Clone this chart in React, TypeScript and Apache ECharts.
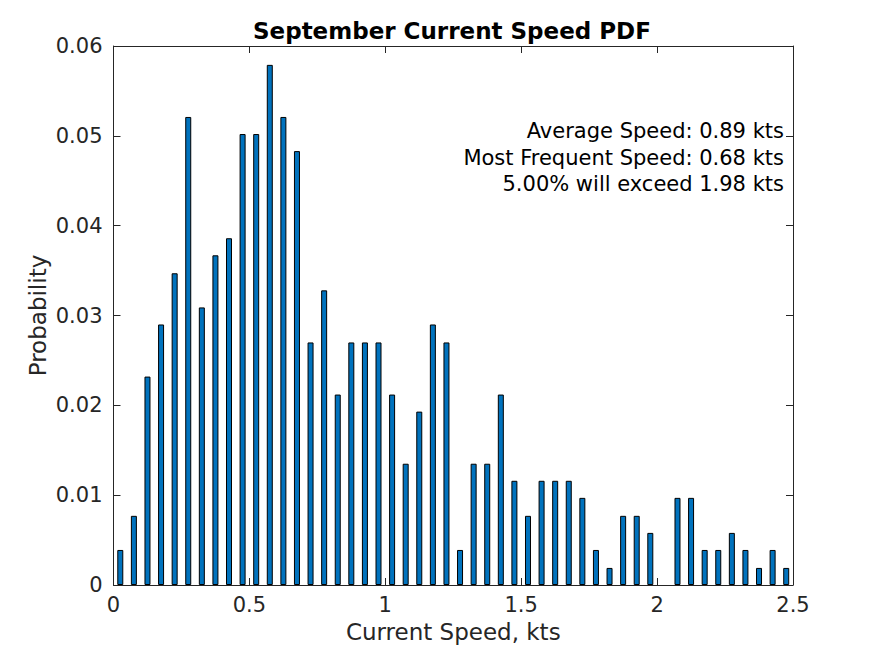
import React, { useEffect, useRef } from "react";
import * as echarts from "echarts";

const binCenters = [
  0.025, 0.075, 0.125, 0.175, 0.225, 0.275, 0.325, 0.375, 0.425, 0.475,
  0.525, 0.575, 0.625, 0.675, 0.725, 0.775, 0.825, 0.875, 0.925, 0.975,
  1.025, 1.075, 1.125, 1.175, 1.225, 1.275, 1.325, 1.375, 1.425, 1.475,
  1.525, 1.575, 1.625, 1.675, 1.725, 1.775, 1.825, 1.875, 1.925, 1.975,
  2.025, 2.075, 2.125, 2.175, 2.225, 2.275, 2.325, 2.375, 2.425, 2.475,
];

const probability = [
  0.0039, 0.0077, 0.0232, 0.029, 0.0347, 0.0521, 0.0309, 0.0367, 0.0386, 0.0502,
  0.0502, 0.0579, 0.0521, 0.0483, 0.027, 0.0328, 0.0212, 0.027, 0.027, 0.027,
  0.0212, 0.0135, 0.0193, 0.029, 0.027, 0.0039, 0.0135, 0.0135, 0.0212, 0.0116,
  0.0077, 0.0116, 0.0116, 0.0116, 0.0097, 0.0039, 0.0019, 0.0077, 0.0077, 0.0058,
  0, 0.0097, 0.0097, 0.0039, 0.0039, 0.0058, 0.0039, 0.0019, 0.0039, 0.0019,
];

const titleText = "September Current Speed PDF";
const xLabel = "Current Speed, kts";
const yLabel = "Probability";
const annotations = [
  "Average Speed: 0.89 kts",
  "Most Frequent Speed: 0.68 kts",
  "5.00% will exceed 1.98 kts",
];

const FONT = "DejaVu Sans";
const AX = "#262626";

export default function App() {
  const ref = useRef<HTMLDivElement>(null);
  useEffect(() => {
    document.body.style.margin = "0";
    const chart = echarts.init(ref.current!, null, { renderer: "svg" });
    const axisCommon = {
      axisLine: { show: true, onZero: false, lineStyle: { color: AX, width: 1 } },
      axisTick: { show: true, inside: true, length: 7, lineStyle: { color: AX, width: 1 } },
      splitLine: { show: false },
    };
    chart.setOption({
      animation: false,
      backgroundColor: "#ffffff",
      grid: { left: 113.5, right: 82, top: 46, bottom: 71 },
      xAxis: [
        {
          type: "value",
          min: 0,
          max: 2.5,
          interval: 0.5,
          position: "bottom",
          ...axisCommon,
          axisLabel: { color: AX, fontFamily: FONT, fontSize: 21, margin: 9 },
          name: xLabel,
          nameLocation: "middle",
          nameGap: 35,
          nameMoveOverlap: false,
          nameTextStyle: { color: AX, fontFamily: FONT, fontSize: 23 },
        },
        {
          type: "value",
          min: 0,
          max: 2.5,
          interval: 0.5,
          position: "top",
          ...axisCommon,
          axisLabel: { show: false },
        },
      ],
      yAxis: [
        {
          type: "value",
          min: 0,
          max: 0.06,
          interval: 0.01,
          position: "left",
          ...axisCommon,
          axisLabel: { color: AX, fontFamily: FONT, fontSize: 21, margin: 11 },
          name: yLabel,
          nameLocation: "middle",
          nameGap: 64,
          nameMoveOverlap: false,
          nameTextStyle: { color: AX, fontFamily: FONT, fontSize: 23 },
        },
        {
          type: "value",
          min: 0,
          max: 0.06,
          interval: 0.01,
          position: "right",
          ...axisCommon,
          axisLabel: { show: false },
        },
      ],
      series: [
        {
          type: "bar",
          xAxisIndex: 0,
          yAxisIndex: 0,
          barWidth: 6,
          data: binCenters.map((c, i) => [c, probability[i] > 0 ? probability[i] : null]),
          itemStyle: { color: "#0072BD", borderColor: "#000000", borderWidth: 1 },
        },
      ],
      graphic: [
        {
          type: "text",
          left: 453 - 200,
          top: 19,
          style: {
            text: titleText,
            x: 0,
            y: 0,
            width: 400,
            align: "center",
            fill: "#000000",
            font: `bold 23px '${FONT}'`,
          },
        },
        ...annotations.map((t, i) => ({
          type: "text",
          x: 784,
          y: 131 + i * 26.5,
          style: {
            text: t,
            textAlign: "right",
            textVerticalAlign: "middle",
            fill: "#000000",
            font: `21px '${FONT}'`,
          },
        })),
      ],
    });
    return () => chart.dispose();
  }, []);
  return <div ref={ref} style={{ width: 875, height: 656 }} />;
}
